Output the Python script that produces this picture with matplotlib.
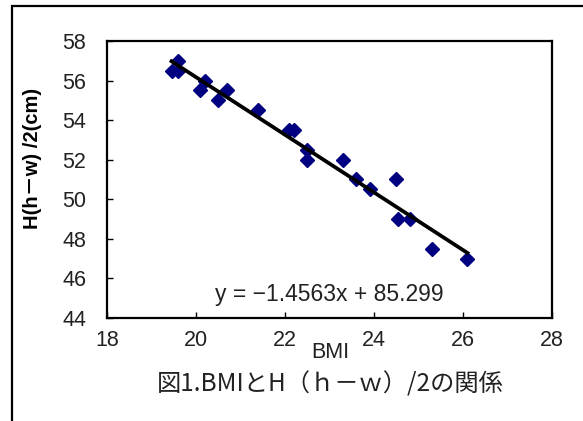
import numpy as np
import matplotlib
matplotlib.use("Agg")
import matplotlib.pyplot as plt
from matplotlib.patches import Rectangle

# BMI vs H(h-w)/2 readings
bmi = [19.45, 19.6, 19.6, 20.1, 20.2, 20.5, 20.7, 21.4, 22.1, 22.2,
       22.5, 22.5, 23.3, 23.6, 23.9, 24.5, 24.55, 24.8, 25.3, 26.1]
hw2 = [56.5, 57.0, 56.5, 55.5, 56.0, 55.0, 55.5, 54.5, 53.5, 53.5,
       52.5, 52.0, 52.0, 51.0, 50.5, 51.0, 49.0, 49.0, 47.5, 47.0]

# trend line as printed on the chart
slope = -1.4563
intercept = 85.299

xticks = [18, 20, 22, 24, 26, 28]
yticks = [44, 46, 48, 50, 52, 54, 56, 58]

latin = ['Liberation Sans', 'Noto Sans CJK JP', 'DejaVu Sans']
cjk = ['Noto Sans CJK JP', 'DejaVu Sans']

fig = plt.figure(figsize=(5.83, 4.21), dpi=100)
W, H = 583, 421
ax = fig.add_axes([107 / W, 1 - 318 / H, (552 - 107) / W, (318 - 41) / H])

ax.plot(bmi, hw2, linestyle='none', marker='D', markersize=7,
        color='#000080', zorder=2)

xs = np.array([min(bmi), max(bmi)])
ax.plot(xs, slope * xs + intercept, color='black', linewidth=2.7, zorder=3)

ax.set_xlim(18, 28)
ax.set_ylim(44, 58)
ax.set_xticks(xticks)
ax.set_yticks(yticks)
for sp in ax.spines.values():
    sp.set_linewidth(1.6)
ax.tick_params(direction='in', length=4, width=1, labelsize=15.5)
ax.tick_params(axis='x', pad=9)
ax.tick_params(axis='y', pad=15)
for lab in ax.get_xticklabels() + ax.get_yticklabels():
    lab.set_family(latin)
    lab.set_color('#222222')

ax.text(0.5, 0.085, 'y = \u22121.4563x + 85.299', transform=ax.transAxes,
        ha='center', va='center', fontsize=16.5, family=latin, color='#222222')

fig.text(32 / W, 1 - 158 / H, 'H(h\uff0dw) /2(cm)', rotation=90,
         ha='center', va='center', fontsize=14.5, fontweight='bold',
         family=latin)
fig.text(330 / W, 1 - 352 / H, 'BMI', ha='center', va='center',
         fontsize=15.5, family=latin, color='#222222')
fig.text(330 / W, 1 - 385 / H, '図1.BMIとH（ｈ－ｗ）/2の関係', ha='center',
         va='center', fontsize=17.5, family=cjk, color='#222222')

# outer chart frame, cut by the image edge on the right and bottom
fig.patches.append(Rectangle((12 / W, -0.1), 1.1, 1 - 6 / H + 0.1,
                             transform=fig.transFigure, fill=False,
                             edgecolor='black', linewidth=1.6))

fig.savefig('out.png', dpi=100)
